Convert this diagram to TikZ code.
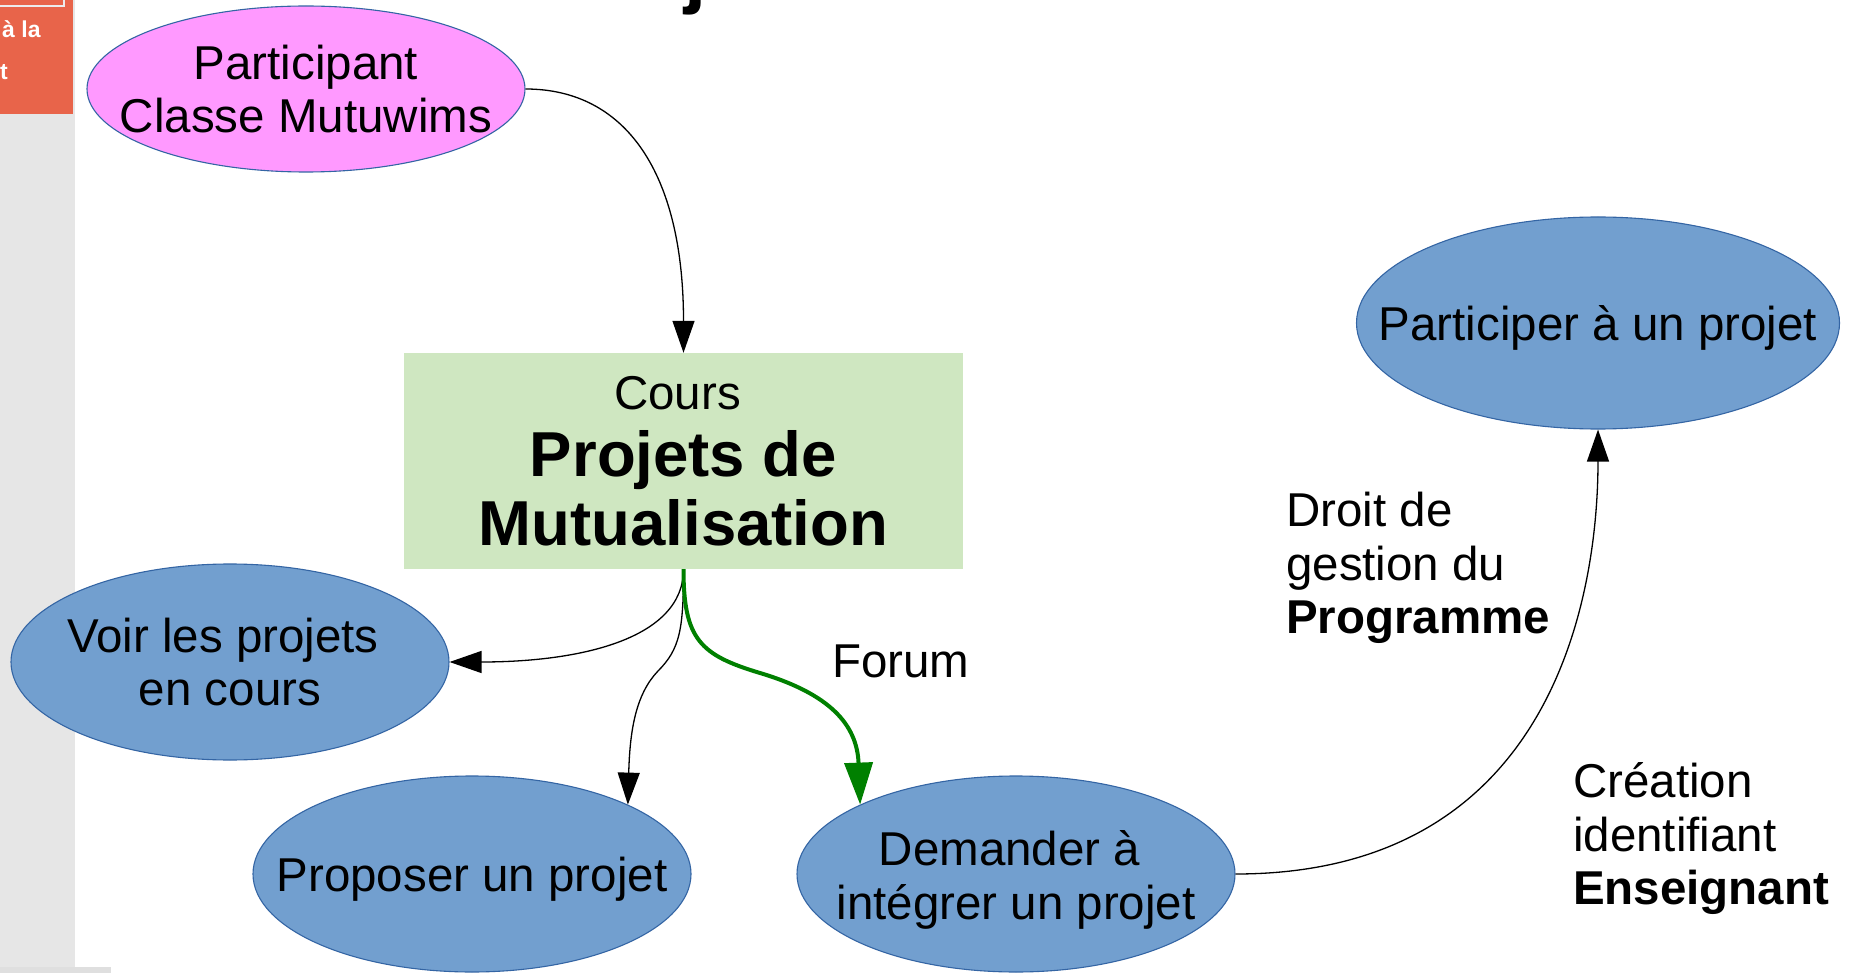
\documentclass[tikz,border=0pt]{standalone}
\usepackage{fontspec}
\setmainfont{Liberation Sans}
\usetikzlibrary{shapes.geometric,arrows.meta}
\definecolor{ellblue}{HTML}{729FCF}
\definecolor{ellborder}{HTML}{3465A4}
\definecolor{pinkfill}{HTML}{FF99FF}
\definecolor{boxgreen}{RGB}{207,231,193}
\definecolor{redbox}{RGB}{232,100,74}
\definecolor{sidegray}{RGB}{230,230,230}
\definecolor{arrowgreen}{HTML}{008000}
\newcommand\mytxt{\fontsize{47.5}{53.5}\selectfont}
\newcommand\mybig{\fontsize{63.5}{69}\selectfont\bfseries}
\begin{document}
\begin{tikzpicture}[x=1pt,y=-1pt,
  bubble/.style={ellipse, draw=ellborder, line width=1.1pt, fill=ellblue, inner sep=0pt},
  txtlabel/.style={font=\mytxt, align=center, inner sep=0pt},
  freetxt/.style={font=\mytxt, align=left, inner sep=0pt},
  conn/.style={line width=1.3pt, -{Triangle[length=32pt,width=22pt]}},
  greenconn/.style={draw=arrowgreen, line width=4pt, -{Triangle[length=42pt,width=28pt]}},
]
\useasboundingbox (0,0) rectangle (1858,973);
\clip (0,0) rectangle (1858,973);
\fill[white] (0,0) rectangle (1858,973);

% left strip and red box
\fill[sidegray] (0,0) rectangle (75,967);
\fill[sidegray!97!black] (0,967) rectangle (111,973);
\fill[redbox] (0,0) rectangle (73,114);
\draw[white!85!gray, line width=1.5pt] (-5,-5) rectangle (64,6);
\node[text=white, font=\fontsize{23}{27}\selectfont\bfseries, anchor=base west, inner sep=0pt] (redtxtA) at (2,38) {à la};
\node[text=white, font=\fontsize{23}{27}\selectfont\bfseries, anchor=base east, inner sep=0pt] (redtxtB) at (8,80) {t};

% cut-off title letter
\node[font=\fontsize{80}{80}\selectfont\bfseries, anchor=base west, inner sep=0pt] (titlej) at (684,-1) {j};

% nodes
\node[ellipse, draw=ellborder, line width=1.1pt, fill=pinkfill, inner sep=0pt,
      minimum width=438pt, minimum height=166pt,
      label={[txtlabel,name=pinktxt]center:{Participant\\Classe Mutuwims}}] (pink) at (306,89) {};

\node[fill=boxgreen, minimum width=559pt, minimum height=216pt, inner sep=0pt,
      align=center, font=\mybig] (cours) at (683.5,461) {{\mytxt\mdseries Cours\hspace*{12pt}}\\[-2pt]Projets de\\Mutualisation};

\node[bubble, minimum width=438pt, minimum height=196pt,
      label={[txtlabel,name=voirtxt]center:{Voir les projets\hspace*{14pt}\\en cours}}] (voir) at (230,662) {};
\node[bubble, minimum width=438pt, minimum height=196pt,
      label={[txtlabel,name=proptxt,yshift=-5pt]center:{Proposer un projet}}] (prop) at (472,874) {};
\node[bubble, minimum width=438pt, minimum height=196pt,
      label={[txtlabel,name=demtxt,yshift=-6pt]center:{Demander à\hspace*{13pt}\\intégrer un projet}}] (dem) at (1016,874) {};
\node[bubble, minimum width=483pt, minimum height=212pt,
      label={[txtlabel,name=parttxt,yshift=-5pt]center:{Participer à un projet}}] (part) at (1598,323) {};

% free labels
\node[font=\mytxt, anchor=base west, inner sep=0pt] (forum) at (832,677) {Forum};
\node[freetxt, anchor=west] (droit) at (1286,568) {Droit de\\gestion du\\\textbf{Programme}};
\node[freetxt, anchor=west] (creation) at (1573,839) {Création\\identifiant\\\textbf{Enseignant}};

% connectors
\coordinate (propbend) at (658,671);
\coordinate (greenbend) at (760,673);
\draw[conn] (pink.east) .. controls +(100,0) and +(0,-180) .. (cours.north);
\draw[conn] (cours.south) .. controls +(0,70) and +(130,0) .. (voir.east);
\draw[conn] (cours.south) .. controls +(0,60) and +(22,-22) .. (propbend)
            .. controls +(-22,23) and +(2,-75) .. (prop.24);
\draw[greenconn] (cours.south) .. controls +(0,70) and +(-60,-18) .. (greenbend)
            .. controls +(70,21) and +(-3,-80) .. (dem.156);
\draw[conn] (dem.east) .. controls +(343,0) and +(0,120) .. (part.south);
\end{tikzpicture}
\end{document}
